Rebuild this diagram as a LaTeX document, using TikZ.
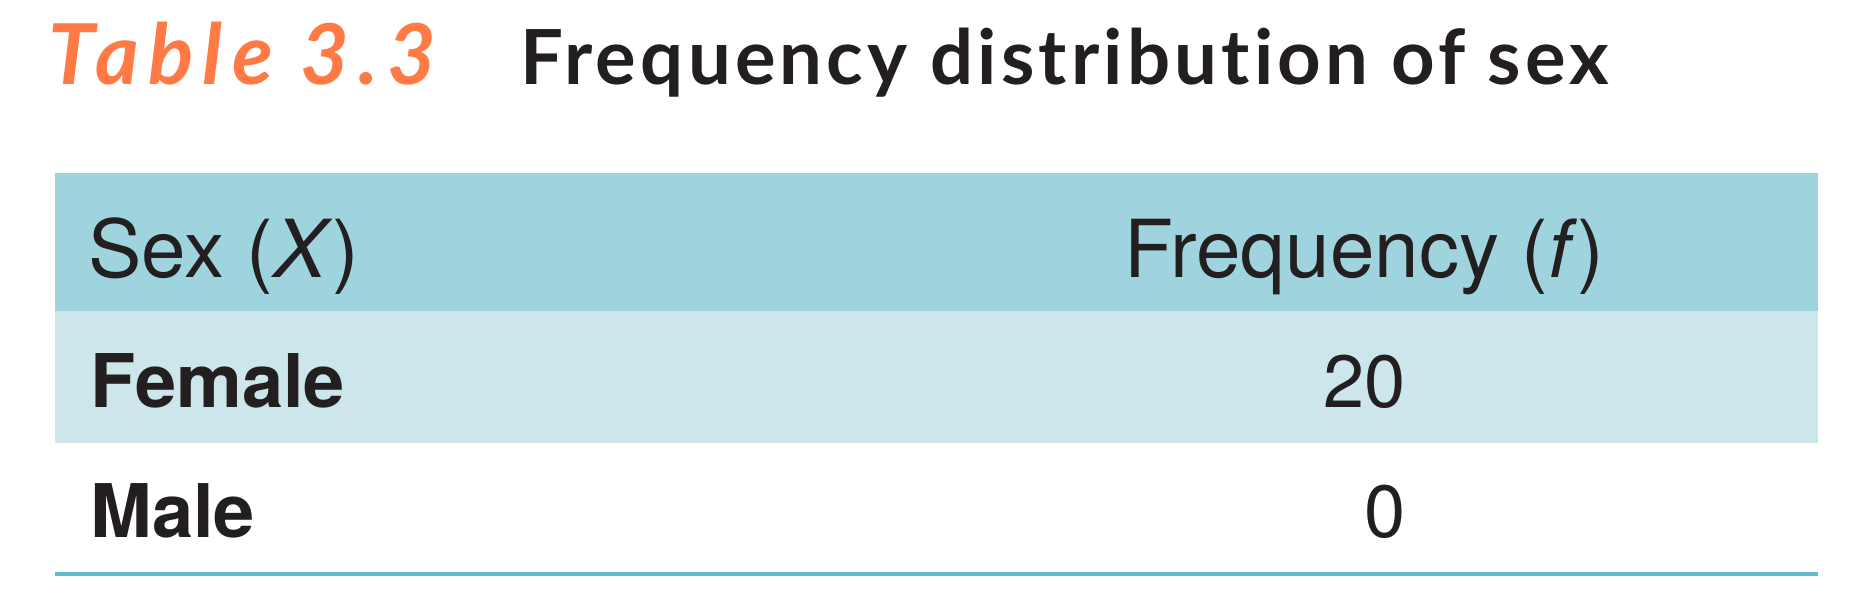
\documentclass[tikz,border=0pt]{standalone}
\usepackage{fontspec}
\setmainfont{TeX Gyre Heros}
\newfontfamily\captionfont{Lato}[Ligatures=NoCommon, LetterSpace=5.5]
\usepackage{tikz}

\definecolor{headblue}{RGB}{159,211,222}
\definecolor{rowblue}{RGB}{204,230,235}
\definecolor{ruleblue}{RGB}{95,188,205}
\definecolor{tabink}{RGB}{35,31,32}
\definecolor{taborange}{RGB}{255,122,69}

\tikzset{
  headcell/.style={anchor=base west, inner sep=0pt, text=tabink, font=\fontsize{40}{48}\selectfont},
  namecell/.style={anchor=base west, inner sep=0pt, text=tabink, font=\fontsize{37}{44}\selectfont\bfseries},
  countcell/.style={anchor=base east, inner sep=0pt, text=tabink, font=\fontsize{37}{44}\selectfont},
  captext/.style={anchor=base west, inner sep=0pt, font=\captionfont\fontsize{38}{44}\selectfont\bfseries}
}

\begin{document}
\begin{tikzpicture}[x=0.5pt,y=-0.5pt]
\useasboundingbox (0,0) rectangle (1850,610);
%% caption
\node (tabno) at (48,85) [captext, text=taborange] {\fontsize{42}{48}\selectfont\itshape\addfontfeatures{LetterSpace=11}Table 3.3};
\node (tabtitle) at (520,85) [captext, text=tabink] {Frequency distribution of sex};
%% shaded rows
\fill [headblue] (55,173) rectangle (1818,311);
\fill [rowblue] (55,311) rectangle (1818,443);
\draw [ruleblue, line width=2pt] (55,574) -- (1818,574);
%% header
\node (sexhead) at (88,277) [headcell] {Sex (\textit{X})};
\node (freqhead) at (1124,277) [headcell] {Frequency (\textit{f})};
%% body
\node (female) at (90,407) [namecell] {Female};
\node (male) at (90,537) [namecell] {Male};
\node (femalef) at (1406,407) [countcell] {20};
\node (malef) at (1406,537) [countcell] {0};
\end{tikzpicture}
\end{document}
